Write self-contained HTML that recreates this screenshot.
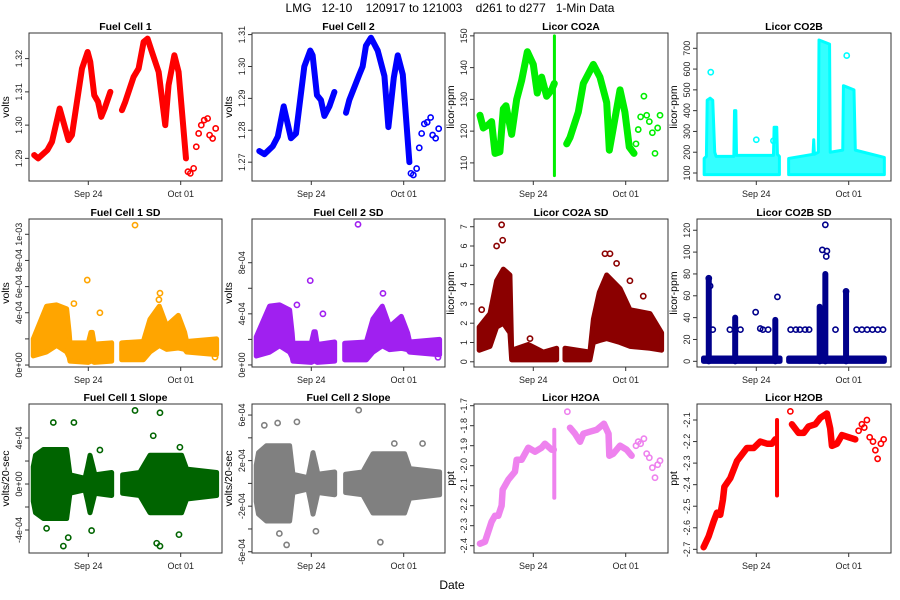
<!DOCTYPE html>
<html><head><meta charset="utf-8"><style>
body{margin:0;background:#fff}
svg{display:block;font-family:"Liberation Sans",sans-serif}
</style></head><body>
<svg id="chart" width="900" height="600" viewBox="0 0 900 600" xmlns="http://www.w3.org/2000/svg">
<rect width="900" height="600" fill="#fff"/>
<text x="450" y="12" text-anchor="middle" font-size="12" xml:space="preserve">LMG   12-10    120917 to 121003    d261 to d277   1-Min Data</text>
<text x="452" y="589" text-anchor="middle" font-size="12">Date</text>
</svg>
<script>
// ---- data (t = days relative to Sep 24) ----
const xTickValues=[0,7];
const xTickLabels=["Sep 24","Oct 01"];
const dotT=[7.55,7.73,7.98,8.18,8.36,8.56,8.78,9.04,9.19,9.42,9.65];
const dot2T=[7.78,7.95,8.13,8.38,8.59,8.79,9.02,9.22,9.42,9.6];

const fc1Ta=[-4.1,-3.8,-3.1,-2.75,-2.17,-1.5,-1.24,-0.48,-0.05,0.15,0.45,0.74,0.98,1.24,1.67];
const fc1Va=[1.291,1.290,1.2925,1.295,1.305,1.2955,1.297,1.317,1.322,1.319,1.309,1.307,1.3025,1.305,1.310];
const fc1Tb=[2.55,2.8,3.43,3.81,4.19,4.49,4.82,5.33,5.83,6.08,6.52,6.84,7.4];
const fc1Vb=[1.3045,1.307,1.3145,1.317,1.325,1.326,1.322,1.316,1.300,1.312,1.321,1.316,1.290];
const fc1Dots=[1.286,1.2855,1.287,1.2935,1.2975,1.300,1.3015,1.302,1.297,1.296,1.299];

const fc2Ta=[-3.94,-3.55,-2.92,-2.54,-2.09,-1.54,-1.16,-0.53,-0.08,0.1,0.43,0.73,0.99,1.37,1.75];
const fc2Va=[1.2735,1.2725,1.275,1.278,1.2875,1.2775,1.279,1.300,1.305,1.3035,1.291,1.2895,1.2845,1.2875,1.292];
const fc2Tb=[2.63,2.88,3.64,3.89,4.14,4.52,5.03,5.54,5.84,6.25,6.55,6.93,7.43];
const fc2Vb=[1.2855,1.2895,1.2975,1.300,1.3065,1.309,1.305,1.297,1.281,1.2965,1.3035,1.2975,1.270];
const fc2Dots=[1.2665,1.266,1.268,1.2745,1.279,1.282,1.2825,1.284,1.2785,1.2775,1.2805];

const co2aTa=[-4.04,-3.79,-3.41,-3.16,-2.9,-2.53,-2.27,-2.07,-1.64,-1.26,-0.88,-0.45,0,0.3,0.63,1.01,1.39,1.59];
const co2aVa=[125,121,122,123,113,113.5,127,128,119,130,136,145,141,132,137,131,133,135];
const co2aTb=[2.53,2.78,3.41,3.79,4.55,5.05,5.56,5.76,6.06,6.57,6.94,7.27,7.63];
const co2aVb=[116,118,126,135,141,137,129,114,121,133,126,115,113];
const co2aDots=[116,120.5,124.5,131,125,123,119.5,113,121,125];
const co2aSpikeT=[1.6], co2aSpikeLo=[106], co2aSpikeHi=[150];

const co2bTa=[-3.95,-3.78,-3.72,-3.5,-3.3,-3.15,-3.05,-1.7,-1.65,-1.55,-1.5,0,1.3,1.35,1.55,1.6,1.75];
const co2bHiA=[170,180,450,460,450,200,180,180,400,400,185,185,185,320,320,190,180];
const co2bLoA=[92,92,92,92,92,92,92,92,92,92,92,92,92,92,92,92,92];
const co2bTb=[2.45,4.3,4.35,4.4,4.7,4.75,5.55,5.6,6.55,6.6,7.4,7.5,9.7];
const co2bHiB=[170,190,260,190,200,740,720,200,210,520,500,210,175];
const co2bLoB=[92,92,92,92,92,92,92,92,92,92,92,92,92];
const co2bOutT=[-3.45,6.85,0,1.3], co2bOutV=[585,665,260,255];

const fc1sdTa=[-4.17,-3.16,-2.4,-1.64,-1.45,-1.39,0,0.2,0.3,0.45,1.77];
const fc1sdLoA=[0.7,1.0,1.5,1.0,0.6,0.3,0.2,0.3,0.3,0.2,0.3];
const fc1sdHiA=[2.0,4.5,4.6,4.3,2.5,1.7,1.7,2.5,2.5,1.6,1.7];
const fc1sdTb=[2.53,4.17,4.67,5.38,5.93,6.82,7.3,7.45,9.72];
const fc1sdLoB=[0.4,0.4,1.0,1.5,1.2,1.3,1.2,1.0,0.8];
const fc1sdHiB=[1.7,1.8,3.5,4.5,3.0,3.8,2.5,1.8,2.0];
const fc1sdOutT=[3.54,-0.08,0.88,5.43,-1.09,9.6,5.35], fc1sdOutV=[10.7,6.5,4.0,5.5,4.7,0.6,5.0];
const fc2sdLoA=[0.7,1.0,1.5,1.0,0.6,0.3,0.2,0.3,0.3,0.2,0.3];
const fc2sdHiA=[2.2,4.6,4.7,4.3,2.5,1.7,1.7,2.6,2.6,1.6,1.8];
const fc2sdLoB=[0.4,0.4,1.0,1.5,1.2,1.3,1.2,1.0,0.8];
const fc2sdHiB=[1.7,1.8,3.6,4.6,3.0,3.8,2.5,1.8,2.0];
const fc2sdOutT=[3.54,-0.08,0.88,5.43,-1.09,9.6], fc2sdOutV=[11.0,6.6,4.0,5.6,4.7,0.6];

const co2asdTa=[-4.1,-3.28,-2.78,-2.27,-1.77,-1.64,-0.38,0.76,1.77];
const co2asdLoA=[0.6,0.8,1.8,2.0,1.5,0.1,0.1,0.1,0.1];
const co2asdHiA=[1.8,2.5,4.2,4.8,4.5,0.6,0.9,0.5,0.7];
const co2asdTb=[2.4,4.29,4.55,5.0,5.56,6.57,7.32,8.84,9.72];
const co2asdLoB=[0.1,0.1,1.0,1.1,1.2,1.0,0.8,0.7,0.6];
const co2asdHiB=[0.7,0.5,2.2,3.6,4.5,3.8,2.7,2.5,1.5];
const co2asdOutT=[-2.4,-2.32,-2.78,5.43,5.81,6.31,-3.91,-0.25,8.33,7.32];
const co2asdOutV=[7.1,6.3,6.0,5.6,5.6,5.1,2.7,1.2,3.4,4.2];

const co2bsdTa=[-4.0,1.8], co2bsdLoA=[0,0], co2bsdHiA=[3,3];
const co2bsdTb=[2.45,9.7], co2bsdLoB=[0,0], co2bsdHiB=[3,3];
const co2bsdSpikeT=[-3.6,-1.6,1.44,4.8,5.23,6.8];
const co2bsdSpikeLo=[0,0,0,0,0,0];
const co2bsdSpikeHi=[75,40,38,50,80,63];
const co2bsdOutT=[5.0,5.23,5.35,5.3,-0.05,-3.6,6.8,-3.5,0.3,1.6,-3.3,-2.0,-1.2,0.5,0.9,2.6,3.0,3.3,3.7,4.0,6.0,7.6,8.0,8.4,8.8,9.2,9.6];
const co2bsdOutV=[102,125,101,96,45,76,64,69,30,59,29,29,29,29,29,29,29,29,29,29,29,29,29,29,29,29,29];

const fc1slTa=[-4.17,-4.0,-3.4,-1.64,-1.39,-0.25,-0.05,0.13,0.35,0.5,1.77];
const fc1slHiA=[1.5,2.5,3.0,3.0,0.8,0.5,1.5,2.5,1.5,0.8,1.0];
const fc1slLoA=[-1.5,-2.5,-3.0,-3.0,-0.8,-0.5,-1.5,-2.5,-1.5,-0.8,-1.0];
const fc1slTb=[2.6,3.9,4.67,7.07,7.45,9.72];
const fc1slHiB=[0.8,1.0,2.5,2.5,1.3,1.0];
const fc1slLoB=[-0.8,-1.0,-2.5,-2.5,-1.3,-1.0];
const fc1slOutT=[-2.65,-1.09,3.54,5.43,4.92,-3.16,-1.89,5.18,5.43,6.87,0.25,-1.52,6.94,0.88];
const fc1slOutV=[5.35,5.35,6.4,6.2,4.2,-3.86,-5.4,-5.15,-5.4,-4.4,-4.05,-4.66,3.2,2.96];
const fc2slHiA=[1.6,2.7,3.3,3.3,0.8,0.5,1.6,2.7,1.6,0.8,1.0];
const fc2slLoA=[-1.6,-2.7,-3.3,-3.3,-0.8,-0.5,-1.6,-2.7,-1.6,-0.8,-1.0];
const fc2slHiB=[0.8,1.0,2.6,2.6,1.3,1.0];
const fc2slLoB=[-0.8,-1.0,-2.6,-2.6,-1.3,-1.0];
const fc2slOutT=[3.59,-1.09,-2.55,-3.56,-1.87,5.23,0.35,-2.42,6.29,8.43];
const fc2slOutV=[6.43,5.4,5.3,5.1,-5.4,-5.16,-4.2,-4.4,3.5,3.5];

const h2oaTa=[-4.04,-3.66,-3.16,-2.9,-2.65,-2.4,-2.32,-1.89,-1.39,-1.26,-0.88,-0.38,0.13,0.63,0.88,1.39,1.55];
const h2oaVa=[-2.39,-2.38,-2.28,-2.25,-2.25,-2.2,-2.12,-2.07,-2.03,-1.97,-1.97,-1.91,-1.93,-1.91,-1.89,-1.92,-1.92];
const h2oaTb=[2.78,3.16,3.54,3.79,4.29,4.8,5.35,5.7,5.76,6.06,6.57,7.07,7.45];
const h2oaVb=[-1.81,-1.84,-1.88,-1.84,-1.83,-1.82,-1.79,-1.84,-1.95,-1.94,-1.90,-1.92,-1.95];
const h2oaDotT=[2.58].concat(dot2T);
const h2oaDots=[-1.73,-1.90,-1.88,-1.89,-1.865,-1.94,-1.96,-2.01,-2.06,-1.995,-1.975];
const h2oaSpikeT=[1.59], h2oaSpikeLo=[-2.16], h2oaSpikeHi=[-1.82];

const h2obTa=[-3.99,-3.61,-3.23,-2.98,-2.73,-2.53,-2.42,-1.97,-1.46,-1.21,-0.71,-0.2,0.3,0.81,1.19,1.44];
const h2obVa=[-2.69,-2.64,-2.57,-2.53,-2.54,-2.47,-2.41,-2.37,-2.29,-2.27,-2.23,-2.23,-2.20,-2.21,-2.21,-2.19];
const h2obTb=[2.7,3.2,3.59,3.96,4.47,4.85,5.35,5.6,5.73,6.11,6.49,6.99,7.5];
const h2obVb=[-2.12,-2.16,-2.16,-2.13,-2.12,-2.09,-2.07,-2.14,-2.22,-2.21,-2.17,-2.18,-2.19];
const h2obDotT=[2.58,7.75,8.0,8.18,8.38,8.59,8.84,9.02,9.19,9.44,9.65];
const h2obDots=[-2.06,-2.15,-2.12,-2.135,-2.10,-2.18,-2.2,-2.24,-2.28,-2.21,-2.19];
const h2obSpikeT=[1.57], h2obSpikeLo=[-2.45], h2obSpikeHi=[-2.1];

// ---- layout ----
const colsX=[[29,222],[252,445],[474,668],[697,891]];
const rowsY=[[33,181],[219,367],[404,553]];
const NS="http://www.w3.org/2000/svg";
const svg=document.getElementById('chart');
function mk(tag,attrs,parent){const e=document.createElementNS(NS,tag);for(const k in attrs)e.setAttribute(k,attrs[k]);(parent||svg).appendChild(e);return e;}

function panel(p){
  const [x0,x1]=colsX[p.col],[y0,y1]=rowsY[p.row];
  const g=mk('g',{});
  
  
  const xs=t=>x0+59.3+t*13.2;
  const ys=v=>y0+(p.ylim[1]-v)/(p.ylim[1]-p.ylim[0])*(y1-y0);
  const clip='c'+p.name;
  const cp=mk('clipPath',{id:clip},g);mk('rect',{x:x0,y:y0,width:x1-x0,height:y1-y0},cp);
  const marks=mk('g',{'clip-path':'url(#'+clip+')'},g);
  (p.bands||[]).forEach(b=>{
    let pts=b.t.map((t,i)=>xs(t)+','+ys(b.hi[i]));
    for(let i=b.t.length-1;i>=0;i--)pts.push(xs(b.t[i])+','+ys(b.lo[i]));
    const e=mk('polygon',{points:pts.join(' '),fill:p.color,'fill-opacity':p.bandOpacity||1,stroke:p.color,'stroke-width':p.bandStroke||5,'stroke-linejoin':'round'},marks);
    
    
  });
  (p.lines||[]).forEach(l=>{
    const e=mk('polyline',{points:l.t.map((t,i)=>xs(t)+','+ys(l.v[i])).join(' '),fill:'none',stroke:p.color,'stroke-width':p.lw||6,'stroke-linecap':'round','stroke-linejoin':'round'},marks);
    
    
  });
  (p.spikes||[]).forEach(s=>{
    s.t.forEach((t,i)=>{
      const e=mk('line',{x1:xs(t),x2:xs(t),y1:ys(s.lo[i]),y2:ys(s.hi[i]),stroke:p.color,'stroke-width':s.w||3.5,'stroke-linecap':'round'},marks);
      
      
    });
  });
  (p.points||[]).forEach(s=>{
    s.t.forEach((t,i)=>{
      const e=mk('circle',{cx:xs(t),cy:ys(s.v[i]),r:2.6,fill:'none',stroke:p.color,'stroke-width':1.6},marks);
      
      
    });
  });
  const box=mk('rect',{x:x0,y:y0,width:x1-x0,height:y1-y0,fill:'none',stroke:'#333','stroke-width':1},g);
  
  
  const tt=mk('text',{x:(x0+x1)/2,y:y0-3,'text-anchor':'middle','font-size':10.5,'font-weight':'bold'},g);
  tt.textContent=p.title;
  
  
  const yl=mk('text',{transform:`translate(${x0-20},${(y0+y1)/2}) rotate(-90)`,'text-anchor':'middle','font-size':10.5},g);
  yl.textContent=p.ylabel;
  
  
  p.yticks.forEach((v,i)=>{
    const y=ys(v);
    mk('line',{x1:x0-4,x2:x0,y1:y,y2:y,stroke:'#333'},g);
    if(p.ylabels[i]){
      const e=mk('text',{transform:`translate(${x0-7},${y}) rotate(-90)`,'text-anchor':'middle','font-size':9,fill:'#222'},g);
      e.textContent=p.ylabels[i];
      
      
    }
  });
  xTickValues.forEach((t,i)=>{
    const x=xs(t);
    mk('line',{x1:x,x2:x,y1:y1,y2:y1+4,stroke:'#333'},g);
    const e=mk('text',{x:x,y:y1+16,'text-anchor':'middle','font-size':9,fill:'#222'},g);
    e.textContent=xTickLabels[i];
    
    
  });
}

panel({name:'fuel-cell-1',title:'Fuel Cell 1',ylabel:'volts',col:0,row:0,color:'#ff0000',ylim:[1.2832,1.3277],
  yticks:[1.29,1.30,1.31,1.32],ylabels:['1.29','1.30','1.31','1.32'],
  lines:[{t:fc1Ta,v:fc1Va},{t:fc1Tb,v:fc1Vb}],points:[{t:dotT,v:fc1Dots}]});
panel({name:'fuel-cell-2',title:'Fuel Cell 2',ylabel:'volts',col:1,row:0,color:'#0000ff',ylim:[1.2641,1.3105],
  yticks:[1.27,1.28,1.29,1.30,1.31],ylabels:['1.27','1.28','1.29','1.30','1.31'],
  lines:[{t:fc2Ta,v:fc2Va},{t:fc2Tb,v:fc2Vb}],points:[{t:dotT,v:fc2Dots}]});
panel({name:'licor-co2a',title:'Licor CO2A',ylabel:'licor-ppm',col:2,row:0,color:'#00ee00',ylim:[104.3,150.9],lw:7,
  yticks:[110,120,130,140,150],ylabels:['110','120','130','140','150'],
  lines:[{t:co2aTa,v:co2aVa},{t:co2aTb,v:co2aVb}],spikes:[{t:co2aSpikeT,lo:co2aSpikeLo,hi:co2aSpikeHi,w:3}],points:[{t:dot2T,v:co2aDots}]});
panel({name:'licor-co2b',title:'Licor CO2B',ylabel:'licor-ppm',col:3,row:0,color:'#00ffff',ylim:[61.5,773.6],bandOpacity:0.8,bandStroke:3,
  yticks:[100,200,300,400,500,600,700],ylabels:['100','200','300','400','500','600','700'],
  bands:[{t:co2bTa,lo:co2bLoA,hi:co2bHiA},{t:co2bTb,lo:co2bLoB,hi:co2bHiB}],points:[{t:co2bOutT,v:co2bOutV}]});

panel({name:'fuel-cell-1-sd',title:'Fuel Cell 1 SD',ylabel:'volts',col:0,row:1,color:'#ffa500',ylim:[-0.15,11.17],
  yticks:[0,2,4,6,8,10],ylabels:['0e+00','','4e-04','6e-04','8e-04','1e-03'],
  bands:[{t:fc1sdTa,lo:fc1sdLoA,hi:fc1sdHiA},{t:fc1sdTb,lo:fc1sdLoB,hi:fc1sdHiB}],points:[{t:fc1sdOutT,v:fc1sdOutV}]});
panel({name:'fuel-cell-2-sd',title:'Fuel Cell 2 SD',ylabel:'volts',col:1,row:1,color:'#a020f0',ylim:[-0.16,11.42],
  yticks:[0,2,4,6,8],ylabels:['0e+00','','4e-04','','8e-04'],
  bands:[{t:fc1sdTa,lo:fc2sdLoA,hi:fc2sdHiA},{t:fc1sdTb,lo:fc2sdLoB,hi:fc2sdHiB}],points:[{t:fc2sdOutT,v:fc2sdOutV}]});
panel({name:'licor-co2a-sd',title:'Licor CO2A SD',ylabel:'licor-ppm',col:2,row:1,color:'#8b0000',ylim:[-0.27,7.4],
  yticks:[0,1,2,3,4,5,6,7],ylabels:['0','1','2','3','4','5','6','7'],
  bands:[{t:co2asdTa,lo:co2asdLoA,hi:co2asdHiA},{t:co2asdTb,lo:co2asdLoB,hi:co2asdHiB}],points:[{t:co2asdOutT,v:co2asdOutV}]});
panel({name:'licor-co2b-sd',title:'Licor CO2B SD',ylabel:'licor-ppm',col:3,row:1,color:'#00008b',ylim:[-5.2,130.3],
  yticks:[0,20,40,60,80,100,120],ylabels:['0','20','40','60','80','100','120'],
  bands:[{t:co2bsdTa,lo:co2bsdLoA,hi:co2bsdHiA},{t:co2bsdTb,lo:co2bsdLoB,hi:co2bsdHiB}],
  spikes:[{t:co2bsdSpikeT,lo:co2bsdSpikeLo,hi:co2bsdSpikeHi,w:6}],points:[{t:co2bsdOutT,v:co2bsdOutV}]});

panel({name:'fuel-cell-1-slope',title:'Fuel Cell 1 Slope',ylabel:'volts/20-sec',col:0,row:2,color:'#006400',ylim:[-6.0,6.96],
  yticks:[-4,-2,0,2,4],ylabels:['-4e-04','','0e+00','','4e-04'],
  bands:[{t:fc1slTa,lo:fc1slLoA,hi:fc1slHiA},{t:fc1slTb,lo:fc1slLoB,hi:fc1slHiB}],points:[{t:fc1slOutT,v:fc1slOutV}]});
panel({name:'fuel-cell-2-slope',title:'Fuel Cell 2 Slope',ylabel:'volts/20-sec',col:1,row:2,color:'#808080',ylim:[-6.11,6.97],
  yticks:[-6,-4,-2,0,2,4,6],ylabels:['-6e-04','','-2e-04','','2e-04','','6e-04'],
  bands:[{t:fc1slTa,lo:fc2slLoA,hi:fc2slHiA},{t:fc1slTb,lo:fc2slLoB,hi:fc2slHiB}],points:[{t:fc2slOutT,v:fc2slOutV}]});
panel({name:'licor-h2oa',title:'Licor H2OA',ylabel:'ppt',col:2,row:2,color:'#ee82ee',ylim:[-2.4365,-1.6915],lw:6.5,
  yticks:[-2.4,-2.3,-2.2,-2.1,-2.0,-1.9,-1.8,-1.7],ylabels:['-2.4','-2.3','-2.2','-2.1','-2.0','-1.9','-1.8','-1.7'],
  lines:[{t:h2oaTa,v:h2oaVa},{t:h2oaTb,v:h2oaVb}],spikes:[{t:h2oaSpikeT,lo:h2oaSpikeLo,hi:h2oaSpikeHi,w:4}],points:[{t:h2oaDotT,v:h2oaDots}]});
panel({name:'licor-h2ob',title:'Licor H2OB',ylabel:'ppt',col:3,row:2,color:'#ff0000',ylim:[-2.717,-2.0258],lw:6.5,
  yticks:[-2.7,-2.6,-2.5,-2.4,-2.3,-2.2,-2.1],ylabels:['-2.7','-2.6','-2.5','-2.4','-2.3','-2.2','-2.1'],
  lines:[{t:h2obTa,v:h2obVa},{t:h2obTb,v:h2obVb}],spikes:[{t:h2obSpikeT,lo:h2obSpikeLo,hi:h2obSpikeHi,w:4}],points:[{t:h2obDotT,v:h2obDots}]});
</script>
</body></html>
